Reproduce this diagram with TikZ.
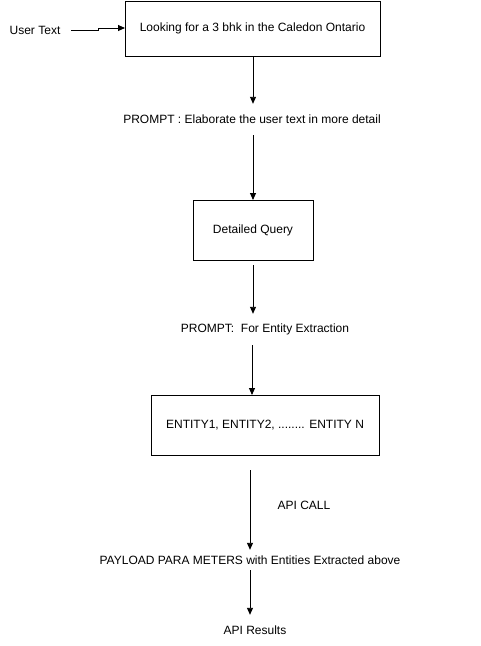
\documentclass[tikz,border=0pt]{standalone}
\usepackage{fontspec}
\setmainfont{Liberation Sans}
\usetikzlibrary{arrows.meta}
\begin{document}
\begin{tikzpicture}[x=1pt,y=-1pt,
  every node/.style={font=\fontsize{12}{14}\selectfont, inner sep=0pt},
  box/.style={draw, line width=0.9pt, anchor=north west},
  lbl/.style={minimum height=0pt},
  arr/.style={draw, line width=0.9pt, -{Triangle[length=7pt,width=6pt]}}]
\useasboundingbox (0,0) rectangle (481,646);
\node[lbl] (user) at (35,30) {User Text};
\node[box, minimum width=255pt, minimum height=55pt] (b1) at (125,0.5) {};
\node (t1) at (252.5,28) {Looking for a 3 bhk in the Caledon Ontario};
\coordinate (uA) at (71,30);
\draw[arr] (uA) -- (98,30) -- (98,28) -- (b1.west |- 0,28);
\node[minimum height=31pt] (p1) at (252,119.5) {PROMPT : Elaborate the user text in more detail};
\draw[arr] (b1.south -| 253,0) -- (p1.north -| 253,0);
\node[box, minimum width=120pt, minimum height=60pt] (b2) at (193,200) {};
\node (t2) at (253,230) {Detailed Query};
\draw[arr] (p1.south -| 253,0) -- (b2.north -| 253,0);
\node[minimum height=31pt] (p2) at (265,329.5) {PROMPT:\ \ For Entity Extraction};
\coordinate (c2) at (253,265);
\draw[arr] (c2) -- (p2.north -| c2);
\node[box, minimum width=228pt, minimum height=60pt] (b3) at (151,395) {};
\node (t3) at (265,425) {ENTITY1, ENTITY2, ........ ENTITY N};
\draw[arr] (p2.south -| 252,0) -- (b3.north -| 252,0);
\node (call) at (304,505) {API CALL};
\node[minimum height=20pt] (p3) at (250,560) {PAYLOAD PARA METERS with Entities Extracted above};
\coordinate (c3) at (250,470);
\draw[arr] (c3) -- (p3.north -| c3);
\node[minimum height=30pt] (res) at (255,630) {API Results};
\draw[arr] (p3.south -| 250,0) -- (res.north -| 250,0);
\end{tikzpicture}
\end{document}
